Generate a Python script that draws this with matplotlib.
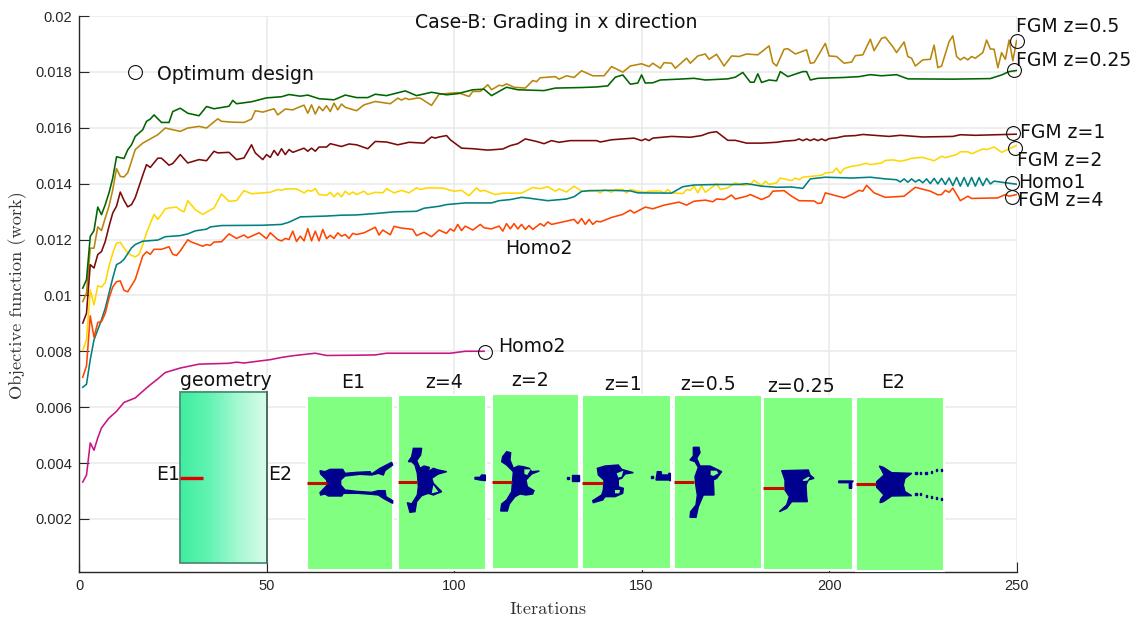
import numpy as np
from matplotlib import pyplot as plt
from matplotlib.colors import LinearSegmentedColormap
from matplotlib.patches import Polygon, Rectangle

# curves
z025_x = [1, 2, 3, 4, 5, 6, 7, 8, 9, 10, 12, 13, 14, 15, 17, 18, 19, 20, 22, 24, 25, 27, 29, 32, 34, 36, 40, 41, 42, 46, 50, 54, 56, 59, 61, 64, 68, 71, 74, 77, 79, 82, 87, 90, 94, 98, 101, 105, 108, 110, 114, 117, 124, 127, 134, 138, 141, 143, 145, 147, 149, 150, 151, 153, 155, 160, 164, 167, 173, 175, 177, 179, 180, 181, 182, 184, 186, 187, 189, 193, 194, 195, 197, 204, 208, 211, 214, 218, 221, 233, 243, 246, 248, 250]
z025_y = [.01026, .01056, .01211, .01232, .01316, .01289, .01325, .01367, .0142, .01496, .0149, .01521, .01539, .01569, .01593, .01623, .01631, .01646, .01619, .01619, .01658, .0167, .01652, .01643, .01676, .01668, .01677, .01698, .01686, .01693, .01707, .01711, .01719, .01713, .01717, .01704, .017, .01717, .01708, .01708, .0172, .01715, .01732, .01715, .01727, .01718, .01722, .01736, .01738, .01715, .01745, .01736, .01733, .01742, .01744, .01746, .0175, .01781, .01789, .01756, .0176, .01789, .0176, .01761, .01771, .01774, .01777, .01771, .01775, .01781, .01798, .01763, .01763, .01793, .01762, .01771, .01768, .01801, .01783, .01801, .01801, .01771, .01777, .0178, .01783, .0179, .01786, .0179, .01775, .01774, .01776, .01789, .01801, .01805]

z05_x = [1, 2, 3, 4, 5, 6, 7, 8, 9, 10, 11, 12, 13, 15, 17, 19, 21, 23, 25, 27, 29, 32, 34, 37, 38, 41, 44, 46, 47, 49, 52, 53, 55, 57, 58, 60, 61, 62, 63, 64, 65, 66, 67, 68, 69, 70, 71, 74, 76, 79, 83, 85, 86, 87, 88, 90, 91, 94, 96, 101, 104, 105, 107, 109, 110, 112, 113, 114, 116, 119, 121, 122, 123, 127, 128, 130, 132, 134, 137, 140, 142, 145, 147, 150, 152, 153, 155, 156, 158, 159, 162, 163, 165, 167, 168, 170, 172, 174, 176, 178, 181, 184, 185, 186, 188, 189, 191, 194, 195, 196, 199, 200, 202, 204, 206, 207, 209, 211, 212, 214, 215, 217, 218, 220, 221, 222, 223, 225, 227, 228, 229, 230, 232, 233, 234, 235, 236, 237, 238, 239, 241, 242, 243, 244, 245, 246, 247, 248, 249, 250]
z05_y = [.00978, .01008, .01169, .01169, .01245, .01232, .01277, .01319, .01378, .01454, .01426, .01424, .01439, .01522, .01545, .0156, .01575, .01599, .01593, .01587, .01599, .01605, .01599, .01632, .01623, .0162, .01619, .01631, .01661, .01656, .01668, .01646, .01667, .01664, .0167, .01681, .01652, .01682, .01649, .01676, .01661, .01679, .01658, .01688, .01664, .01685, .01673, .01661, .01682, .01694, .01686, .01706, .01699, .01706, .01701, .01706, .01706, .0168, .0172, .01726, .01712, .0173, .0173, .01754, .01736, .01752, .0175, .01757, .01745, .01742, .01769, .01765, .01779, .01783, .01774, .01786, .0178, .01804, .01786, .01786, .01819, .01799, .01821, .01829, .01819, .01831, .01813, .01833, .01831, .01813, .01849, .01831, .01857, .01864, .01845, .01863, .01821, .01857, .01855, .01864, .01861, .01893, .01833, .01821, .01881, .01883, .01864, .01879, .01831, .01833, .01902, .01857, .01855, .01831, .01835, .01858, .01861, .01917, .01876, .0192, .01924, .0189, .01869, .01907, .01855, .01849, .01821, .01843, .01845, .01896, .01815, .01821, .01908, .01929, .01855, .01843, .01852, .01843, .01855, .01849, .01869, .01914, .01882, .01881, .01815, .01869, .01845, .01914, .0184, .01912]

z1_x = [1, 2, 3, 4, 5, 6, 7, 8, 9, 10, 11, 12, 13, 14, 15, 16, 17, 18, 19, 21, 22, 24, 25, 27, 29, 32, 34, 36, 37, 40, 42, 44, 46, 47, 49, 50, 51, 52, 53, 54, 55, 56, 57, 60, 61, 62, 63, 64, 66, 67, 70, 72, 74, 77, 79, 82, 85, 88, 92, 94, 95, 96, 98, 99, 102, 105, 109, 113, 115, 117, 119, 122, 124, 126, 128, 131, 138, 139, 142, 148, 150, 151, 152, 153, 158, 163, 166, 168, 170, 173, 175, 178, 182, 186, 188, 191, 192, 193, 194, 195, 196, 197, 198, 199, 200, 202, 204, 207, 209, 213, 216, 219, 225, 233, 235, 239, 250]
z1_y = [.00901, .00936, .0111, .01098, .01146, .01157, .01193, .01247, .01295, .01319, .0137, .0134, .01317, .01325, .0135, .0139, .0143, .01468, .01458, .01491, .01491, .01466, .01472, .01504, .01474, .01486, .01482, .01516, .0151, .01512, .01486, .01492, .01539, .0151, .01486, .01504, .01494, .01519, .01501, .01525, .01504, .01522, .01512, .01527, .01516, .01527, .01516, .01531, .01531, .01543, .01533, .01542, .01539, .01525, .01551, .01549, .01539, .01548, .01545, .01567, .01563, .01567, .01572, .01557, .01527, .01525, .0152, .01524, .01536, .01543, .0156, .01551, .01543, .01554, .01548, .01554, .01554, .01549, .01557, .01563, .01554, .0156, .01554, .01563, .01569, .01566, .01572, .01582, .01586, .01555, .01555, .01545, .01545, .01548, .01552, .01555, .0156, .01554, .0156, .01554, .0156, .01554, .0156, .01554, .01561, .01564, .0157, .01572, .01576, .01572, .01569, .01573, .01567, .01569, .01575, .01573, .01577]

z2_x = [1, 2, 3, 4, 5, 6, 7, 8, 9, 10, 11, 12, 13, 14, 15, 16, 17, 18, 20, 21, 22, 23, 24, 26, 27, 28, 29, 31, 33, 36, 38, 40, 42, 44, 46, 51, 53, 54, 55, 58, 60, 61, 62, 63, 64, 66, 67, 68, 69, 70, 71, 72, 73, 74, 76, 77, 79, 81, 82, 84, 86, 88, 90, 91, 93, 97, 100, 102, 104, 106, 107, 108, 111, 113, 118, 121, 123, 125, 127, 128, 130, 132, 134, 138, 139, 140, 142, 143, 145, 146, 147, 149, 151, 152, 155, 156, 157, 158, 161, 162, 163, 164, 165, 166, 167, 170, 171, 173, 175, 177, 179, 180, 182, 183, 184, 186, 187, 190, 191, 192, 193, 198, 199, 201, 202, 203, 204, 206, 208, 210, 211, 214, 215, 217, 219, 221, 222, 225, 228, 230, 231, 234, 235, 237, 238, 241, 242, 244, 246, 250]
z2_y = [.00803, .00841, .0102, .00966, .01034, .0103, .01046, .01104, .01152, .01187, .0119, .0117, .01152, .01143, .01138, .01146, .01182, .01224, .0129, .01272, .0129, .0131, .01313, .01316, .01305, .01299, .01339, .01307, .0129, .01313, .01363, .01337, .01339, .01375, .01364, .01369, .01379, .01376, .01381, .01381, .01367, .01376, .01373, .01382, .01361, .01358, .01369, .01353, .01367, .01353, .01373, .01361, .0137, .01361, .01373, .01361, .01369, .01367, .01382, .01367, .01376, .01367, .01385, .01379, .01385, .01384, .01373, .01376, .01357, .01385, .01373, .01376, .01361, .01366, .01366, .01386, .01382, .01389, .01373, .01381, .0137, .01391, .01373, .01374, .01367, .01379, .01369, .01379, .01379, .01367, .01379, .01373, .01369, .01373, .01374, .01367, .01379, .01367, .01364, .01379, .01376, .01391, .01367, .01393, .01369, .014, .01379, .01385, .01403, .01394, .01397, .01412, .01393, .01409, .01397, .01403, .0142, .01411, .0142, .01414, .01423, .0143, .01438, .01441, .01456, .01436, .01454, .01462, .01466, .01473, .01468, .01474, .01483, .01485, .0148, .01486, .01491, .01494, .01482, .01498, .01493, .01504, .01514, .01514, .01507, .01524, .01522, .01531, .01512, .01537]

homo1_x = [1, 2, 3, 4, 5, 6, 7, 8, 9, 10, 11, 12, 14, 15, 17, 21, 23, 27, 29, 31, 34, 35, 38, 49, 54, 56, 59, 66, 70, 74, 79, 84, 90, 92, 96, 98, 103, 110, 112, 115, 118, 120, 125, 130, 132, 134, 136, 142, 147, 149, 158, 161, 164, 170, 176, 178, 182, 186, 190, 193, 195, 199, 206, 211, 215, 218, 219, 220, 221, 222, 223, 224, 225, 226, 227, 228, 229, 230, 231, 232, 233, 234, 235, 236, 237, 238, 239, 240, 241, 242, 243, 244, 246, 250]
homo1_y = [.00671, .00682, .0077, .00841, .00877, .00913, .00954, .01008, .01062, .0111, .01117, .01129, .0117, .01182, .01194, .01198, .0121, .01214, .0122, .01231, .01237, .01245, .0125, .01251, .01254, .01262, .01281, .01284, .01287, .01288, .01293, .01299, .01301, .01312, .01319, .01325, .01331, .01331, .01339, .01343, .01351, .01348, .01339, .01345, .01353, .01372, .01375, .01376, .01374, .01367, .01366, .01389, .01395, .01397, .01397, .014, .01391, .01387, .01388, .01383, .01417, .01423, .0142, .01423, .01417, .01414, .01406, .01417, .01405, .01417, .01406, .01414, .01403, .01417, .014, .01419, .01399, .01419, .01397, .0142, .01393, .01422, .01391, .01422, .01391, .01422, .01391, .01422, .01393, .01419, .01399, .01409, .01405, .01398]

z4_x = [1, 2, 3, 4, 5, 6, 7, 8, 9, 10, 11, 12, 13, 15, 17, 18, 19, 20, 22, 24, 25, 26, 27, 29, 30, 33, 34, 35, 36, 38, 40, 42, 44, 45, 48, 50, 51, 53, 54, 55, 56, 57, 58, 59, 60, 61, 62, 63, 64, 65, 66, 67, 68, 69, 70, 71, 72, 73, 74, 76, 79, 80, 81, 83, 84, 86, 89, 90, 92, 94, 96, 98, 99, 100, 101, 102, 103, 105, 107, 108, 110, 112, 113, 114, 115, 116, 117, 118, 119, 120, 121, 123, 124, 125, 126, 129, 132, 133, 134, 135, 136, 137, 138, 139, 142, 145, 147, 148, 151, 153, 156, 160, 162, 164, 167, 169, 170, 172, 174, 175, 178, 179, 182, 184, 185, 188, 190, 192, 196, 197, 198, 199, 204, 206, 208, 209, 210, 212, 215, 220, 223, 227, 229, 230, 231, 232, 233, 235, 237, 238, 245, 247, 248, 250]
z4_y = [.00707, .00748, .00927, .0085, .00903, .00906, .00936, .0099, .0103, .01049, .01052, .01018, .01013, .01057, .01141, .01156, .01147, .01165, .01165, .01174, .01147, .01143, .01159, .01199, .01191, .01176, .01182, .01179, .01191, .01192, .0122, .01204, .01216, .01206, .01224, .01203, .01224, .012, .01195, .01204, .012, .0123, .01193, .01212, .01195, .01239, .01195, .0123, .01195, .01236, .01203, .01215, .01204, .01224, .01212, .01218, .01204, .01222, .01218, .01224, .01244, .01216, .01234, .01217, .01247, .01241, .01236, .01214, .01226, .0121, .01234, .01222, .01238, .0123, .01254, .01232, .01248, .01234, .01254, .01242, .01238, .01248, .0123, .01257, .01238, .01257, .01238, .01254, .01236, .0125, .01236, .01257, .01248, .01263, .01254, .01263, .01272, .01257, .01275, .01254, .01272, .01254, .01266, .01263, .01279, .0129, .01305, .01295, .01316, .0131, .01323, .01334, .01323, .01337, .01341, .01335, .01345, .01343, .01359, .01345, .01355, .01361, .01343, .01355, .01373, .01375, .01355, .01339, .01338, .01329, .01331, .01367, .01349, .01361, .01376, .01373, .01394, .01367, .01351, .01355, .01387, .01373, .0136, .01361, .01376, .01369, .01384, .01339, .01355, .01347, .01349, .01361, .01355, .01361]

homo2_x = [1, 2, 3, 4, 5, 6, 8, 10, 12, 15, 17, 19, 21, 23, 27, 32, 40, 42, 44, 48, 51, 54, 57, 63, 66, 75, 79, 82, 99, 103, 108]
homo2_y = [.00332, .00357, .00472, .00446, .0049, .00526, .00561, .00585, .00617, .00633, .00657, .0068, .00701, .00724, .0074, .00754, .00757, .00761, .00758, .00765, .0077, .00778, .00784, .00793, .00785, .00786, .00787, .00793, .00793, .008, .008]

# open circles on the curve ends
circle_x = [15, 250.2, 249.2, 249, 249.6, 248.8, 248.8, 108.3]
circle_y = [.018, .01909, .01808, .01581, .01528, .01401, .01352, .00799]

x_ticks = [0, 50, 100, 150, 200, 250]
y_ticks = [.002, .004, .006, .008, .01, .012, .014, .016, .018, .02]
y_tick_labels = ['0.002', '0.004', '0.006', '0.008', '0.01', '0.012', '0.014', '0.016', '0.018', '0.02']

W, H = 1137, 621
fig = plt.figure(figsize=(W / 100, H / 100), dpi=100)
ax = fig.add_axes([79 / W, 1 - 572 / H, (1016.6 - 79) / W, (572 - 16) / H])

lw = 1.15
ax.plot(z05_x, z05_y, color='#b8860b', lw=lw)
ax.plot(z025_x, z025_y, color='#006400', lw=lw)
ax.plot(z1_x, z1_y, color='#7b0a0a', lw=lw)
ax.plot(z2_x, z2_y, color='#ffd700', lw=lw)
ax.plot(homo1_x, homo1_y, color='#008080', lw=lw)
ax.plot(z4_x, z4_y, color='#ff4500', lw=lw)
ax.plot(homo2_x, homo2_y, color='#c71585', lw=lw)
ax.plot(circle_x, circle_y, 'o', mfc='none', mec='#111111', mew=0.8, ms=10, clip_on=False)

ax.set_xlim(0, 250)
ax.set_ylim(0.0001, 0.02)
ax.set_xticks(x_ticks)
ax.set_yticks(y_ticks)
ax.set_yticklabels(y_tick_labels)
ax.grid(True, color='#ebebeb', lw=1.2)
ax.set_axisbelow(True)
ax.tick_params(direction='in', length=7, width=0.8, color='#262626', labelcolor='#262626', labelsize=10.5, pad=5)
for lab in ax.get_xticklabels() + ax.get_yticklabels():
    lab.set_family('Liberation Sans')
for s in ['top', 'right']:
    ax.spines[s].set_visible(False)
for s in ['left', 'bottom']:
    ax.spines[s].set_color('#262626')
    ax.spines[s].set_linewidth(1.0)
fig.text(548 / W, 1 - 609 / H, 'Iterations', family='cmr10', size=13.2, color='#333333', ha='center', va='center')
fig.text(18 / W, 1 - 295 / H, 'Objective function (work)', family='cmr10', size=13.2, color='#333333', rotation=90, ha='center', va='center')

# top layer in pixels for the pasted pictures and the labels
top = fig.add_axes([0, 0, 1, 1], facecolor='none')

green_map = LinearSegmentedColormap.from_list('g', ['#40eda0', '#62f3b2', '#a5f8d2', '#d8fbea'])
top.imshow(np.linspace(0, 1, 256).reshape(1, -1), cmap=green_map, extent=(180, 267, 562.7, 391.7), aspect='auto', zorder=1)
top.add_patch(Rectangle((180, 391.7), 87, 171, fill=False, ec='#4c8f76', lw=1.3, zorder=2))
top.plot([267, 267], [391.7, 562.7], color='#4f6b60', lw=1.3, zorder=2)
top.plot([180, 203], [478, 478], color='#e00000', lw=2.4, solid_capstyle='butt', zorder=3)

panels = [(306.7, 393, 395.7, 570), (398, 485.7, 395, 570), (491.7, 579, 394, 569), (582, 670.7, 395, 569),
          (674, 762, 394.5, 569), (763, 853, 397, 570), (856, 944, 397, 571)]
for x0, x1, y0, y1 in panels:
    top.add_patch(Rectangle((x0, y0), x1 - x0, y1 - y0, fc='#80ff80', ec='white', lw=1.5, zorder=1))

navy = '#00008f'
green = '#80ff80'


def shape(origin, pts, color=navy):
    xy = [(origin[0] + p[0] / 3, origin[1] + p[1] / 3) for p in pts]
    if color == navy:
        top.add_patch(Polygon(xy, closed=True, fc=color, ec=color, lw=1.0, zorder=2))
    else:
        top.add_patch(Polygon(xy, closed=True, fc=color, ec='none', zorder=2.5))


def crack(origin, x0, x1, y):
    top.plot([origin[0] + x0 / 3, origin[0] + x1 / 3], [origin[1] + y / 3] * 2, color='#c80a00', lw=2.2, solid_capstyle='butt', zorder=3)


a = (300, 430)
b = (490, 430)
c = (670, 430)

shape(a, [(60, 122), (75, 125), (90, 118), (128, 118), (135, 130), (170, 127), (210, 125), (215, 132), (240, 115), (275, 97), (278, 105), (255, 122), (250, 135), (235, 130), (215, 135), (180, 133), (135, 138), (122, 150), (122, 165), (135, 180), (170, 184), (215, 187), (235, 182), (255, 182), (258, 200), (278, 212), (278, 220), (250, 205), (235, 195), (215, 193), (175, 190), (130, 190), (125, 198), (85, 198), (75, 192), (62, 195), (60, 188), (82, 165), (80, 150), (62, 132)])
crack(a, 20, 82, 158)

shape(a, [(340, 55), (365, 55), (362, 75), (350, 92), (360, 115), (372, 108), (388, 112), (385, 125), (400, 115), (415, 120), (440, 125), (415, 132), (395, 145), (400, 160), (425, 185), (400, 195), (385, 190), (365, 197), (350, 215), (345, 245), (330, 247), (322, 218), (335, 222), (352, 195), (355, 170), (352, 130), (345, 105), (335, 95), (325, 95), (335, 80)])
shape(a, [(400, 165), (415, 185), (395, 190)], green)
shape(a, [(525, 142), (540, 142), (545, 135), (556, 135), (556, 152), (540, 150), (525, 147)])
crack(a, 293, 352, 156)

shape(b, [(50, 65), (62, 68), (60, 90), (70, 115), (85, 108), (100, 110), (118, 115), (125, 125), (148, 123), (125, 132), (108, 150), (112, 170), (132, 182), (128, 192), (108, 195), (90, 192), (75, 200), (58, 222), (52, 243), (32, 243), (35, 222), (50, 210), (65, 185), (68, 150), (70, 125), (50, 105), (35, 95), (38, 80)])
shape(b, [(103, 118), (122, 118), (112, 135), (103, 132)], green)
shape(b, [(245, 134), (267, 134), (267, 152), (245, 152)])
shape(b, [(232, 140), (237, 140), (237, 147), (232, 147)])
crack(b, 5, 66, 155)

shape(b, [(322, 115), (345, 108), (385, 105), (395, 118), (430, 128), (405, 132), (395, 145), (385, 148), (385, 170), (400, 175), (398, 190), (375, 200), (345, 200), (338, 210), (310, 218), (308, 212), (335, 195), (340, 180), (342, 150), (325, 135)])
shape(b, [(380, 130), (400, 122), (395, 140), (385, 143)], green)
shape(b, [(375, 180), (390, 180), (388, 190), (375, 190)], green)
shape(b, [(502, 125), (513, 125), (515, 135), (535, 135), (537, 130), (541, 130), (541, 153), (537, 150), (513, 150), (498, 150)])
shape(b, [(484, 138), (489, 138), (489, 145), (484, 145)])
crack(b, 277, 338, 158)

shape(c, [(70, 52), (87, 52), (90, 68), (80, 85), (90, 108), (120, 108), (155, 125), (140, 145), (130, 150), (132, 195), (100, 195), (85, 230), (78, 262), (60, 262), (62, 245), (78, 225), (82, 195), (78, 170), (75, 140), (85, 112), (75, 95), (60, 90), (70, 78)])
shape(c, [(122, 122), (140, 122), (145, 130), (130, 138), (122, 135)], green)
crack(c, 12, 72, 155)

shape(c, [(335, 122), (415, 120), (420, 135), (432, 145), (415, 150), (408, 165), (410, 200), (412, 215), (385, 215), (365, 215), (350, 235), (328, 245), (350, 225), (358, 200), (345, 180), (345, 150), (338, 130)])
shape(c, [(398, 150), (415, 140), (420, 142), (412, 152), (400, 153)], green)
shape(c, [(506, 153), (550, 153), (545, 158), (545, 175), (538, 175), (538, 158), (506, 158)])
crack(c, 280, 342, 174)

shape(c, [(628, 108), (640, 112), (665, 128), (725, 130), (705, 145), (700, 165), (705, 185), (725, 197), (665, 198), (640, 215), (630, 218), (632, 208), (642, 195), (628, 180), (620, 172), (620, 155), (642, 135), (635, 120)])
for px, py in [(738, 130), (752, 130), (768, 128), (785, 125), (800, 120), (815, 120), (738, 193), (752, 193), (770, 197), (785, 200), (800, 205), (815, 207)]:
    shape(c, [(px - 2, py - 3), (px + 2, py - 3), (px + 2, py + 3), (px - 2, py + 3)])
crack(c, 558, 618, 163)

labels = [('geometry', 226, 380, 'center'), ('E1', 353, 382, 'center'), ('z=4', 444, 382, 'center'), ('z=2', 530, 381, 'center'),
          ('z=1', 623, 385, 'center'), ('z=0.5', 708, 385, 'center'), ('z=0.25', 801, 386, 'center'), ('E2', 893, 382, 'center'),
          ('E1', 156, 474, 'left'), ('E2', 268, 475, 'left'), ('Case-B: Grading in x direction', 415, 23, 'left'),
          ('Optimum design', 157, 75, 'left'), ('Homo2', 505, 249, 'left'), ('Homo2', 498, 347, 'left'),
          ('FGM z=0.5', 1016, 27, 'left'), ('FGM z=0.25', 1016, 61, 'left'), ('FGM z=1', 1020, 133, 'left'),
          ('FGM z=2', 1017, 160, 'left'), ('Homo1', 1018, 183, 'left'), ('FGM z=4', 1018, 200, 'left')]
for txt, tx, ty, ha in labels:
    top.text(tx, ty, txt, size=13.6, color='#111111', ha=ha, va='center', zorder=5)

top.set_xlim(0, W)
top.set_ylim(H, 0)
top.axis('off')

plt.savefig('out.png', dpi=100)
